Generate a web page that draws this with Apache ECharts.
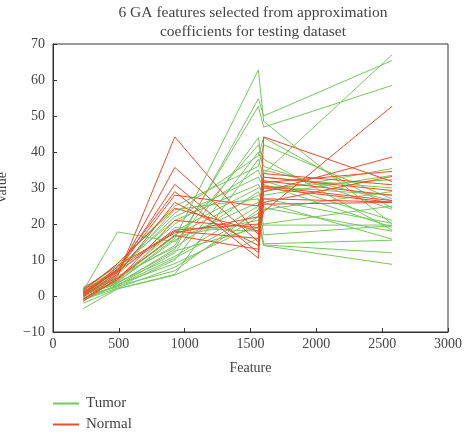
<!DOCTYPE html>
<html>
<head>
<meta charset="utf-8">
<script src="https://cdn.jsdelivr.net/npm/echarts@6/dist/echarts.min.js"></script>
<style>html,body{margin:0;padding:0;background:#fff}#c{width:467px;height:436px}</style>
</head>
<body>
<div id="c"></div>
<script>
// Feature positions on the x axis
var featureX = [230, 490, 925, 1560, 1600, 2575];
var xTicks = [0, 500, 1000, 1500, 2000, 2500, 3000];
var yTicks = [-10, 0, 10, 20, 30, 40, 50, 60, 70];

// Tumor samples (values at each feature)
var tumor = [
  [1.0, 4.0, 16.0, 62.8, 48.5, 20.0],
  [0.5, 3.5, 13.0, 54.8, 50.0, 65.4],
  [2.0, 5.0, 14.0, 52.7, 46.9, 58.5],
  [-0.5, 3.0, 12.0, 44.0, 34.0, 67.0],
  [1.5, 17.8, 15.0, 42.0, 38.0, 18.3],
  [0.0, 2.5, 10.0, 40.0, 36.0, 24.1],
  [-3.5, 2.0, 6.0, 38.0, 33.0, 30.0],
  [1.0, 6.0, 20.0, 35.0, 31.0, 19.1],
  [2.5, 7.0, 22.0, 33.0, 30.0, 32.3],
  [0.8, 5.0, 18.0, 30.0, 29.0, 35.4],
  [1.2, 4.5, 17.0, 28.0, 27.0, 20.2],
  [0.3, 3.8, 11.0, 25.0, 26.0, 15.8],
  [-1.0, 2.2, 8.0, 22.0, 14.2, 12.0],
  [0.6, 3.2, 9.0, 20.0, 14.0, 8.8],
  [1.8, 6.5, 24.0, 27.0, 17.0, 19.5],
  [0.2, 4.2, 19.0, 18.0, 24.0, 29.0],
  [-0.8, 2.8, 7.0, 24.0, 32.0, 21.0],
  [1.4, 9.0, 25.0, 36.0, 42.0, 27.0],
  [2.2, 8.0, 21.0, 31.0, 28.0, 33.5],
  [0.9, 5.5, 13.5, 29.0, 24.5, 18.0],
  [-2.0, 2.0, 5.8, 16.0, 20.0, 25.0],
  [1.1, 4.8, 16.5, 21.0, 35.0, 26.5],
  [0.4, 3.6, 12.5, 19.0, 30.5, 28.0],
  [1.6, 7.5, 23.0, 39.0, 44.0, 24.5],
  [0.7, 4.0, 15.5, 26.0, 19.7, 19.7],
  [-1.2, 3.0, 10.5, 23.0, 14.5, 15.5]
];

// Normal samples
var normal = [
  [-1.0, 5.5, 44.2, 17.0, 30.0, 26.0],
  [0.0, 6.5, 35.7, 15.0, 33.0, 29.3],
  [1.0, 7.0, 31.0, 12.0, 44.2, 31.8],
  [0.5, 8.0, 29.0, 10.5, 31.5, 34.6],
  [-0.3, 6.0, 26.0, 14.0, 29.0, 38.6],
  [1.5, 9.0, 24.4, 18.0, 23.4, 52.7],
  [0.2, 7.5, 18.3, 20.0, 27.0, 26.1],
  [-1.5, 5.0, 16.8, 13.0, 26.0, 33.2],
  [0.8, 6.8, 18.0, 16.0, 25.5, 26.0],
  [2.0, 8.5, 17.5, 22.0, 34.0, 30.9],
  [-0.8, 4.5, 21.0, 19.0, 32.0, 28.0],
  [1.2, 7.2, 28.0, 25.0, 30.5, 26.5]
];

var GREEN = '#76c65e';
var RED = '#ee4a2c';
var FONT = '"Liberation Serif", "DejaVu Serif", serif';

function mk(name, rows, color) {
  return rows.map(function (r) {
    return {
      name: name, type: 'line', symbol: 'none', silent: true,
      color: color,
      lineStyle: { color: color, width: 1 },
      data: r.map(function (v, i) { return [featureX[i], v]; })
    };
  });
}

var series = mk('Tumor', tumor, GREEN).concat(mk('Normal', normal, RED));

var chart = echarts.init(document.getElementById('c'), null, { renderer: 'canvas' });
chart.setOption({
  animation: false,
  textStyle: { fontFamily: FONT },
  title: {
    text: '6 GA features selected from approximation\ncoefficients for testing dataset',
    left: 248, top: -2, textAlign: 'center',
    textStyle: { fontFamily: FONT, fontSize: 15.5, fontWeight: 'normal', color: '#444', lineHeight: 19 }
  },
  grid: { left: 53, right: 19, top: 44, bottom: 104, outerBoundsMode: 'none', containLabel: false,
    show: true, borderColor: '#333', borderWidth: 1, backgroundColor: 'transparent' },
  legend: {
    data: ['Tumor', 'Normal'], orient: 'vertical', left: 53, top: 396, padding: 0,
    itemWidth: 26, itemHeight: 2, itemGap: 6, icon: 'rect',
    textStyle: { fontFamily: FONT, fontSize: 15, color: '#444', padding: [0, 0, 0, 2] }
  },
  xAxis: {
    type: 'value', min: xTicks[0], max: xTicks[xTicks.length - 1], interval: 500,
    name: 'Feature', nameLocation: 'middle', nameGap: 29,
    nameTextStyle: { fontFamily: FONT, fontSize: 14, color: '#444' },
    axisLine: { onZero: false, lineStyle: { color: '#333', width: 1 } },
    axisTick: { inside: true, length: 4, lineStyle: { color: '#333' } },
    axisLabel: { fontFamily: FONT, fontSize: 14, color: '#444', margin: 5,
      formatter: function (v) { return String(v); } },
    splitLine: { show: false }
  },
  yAxis: {
    type: 'value', min: yTicks[0], max: yTicks[yTicks.length - 1], interval: 10,
    name: 'Value', nameLocation: 'middle', nameGap: 44,
    nameTextStyle: { fontFamily: FONT, fontSize: 14, color: '#444' },
    axisLine: { show: true, onZero: false, lineStyle: { color: '#333', width: 1 } },
    axisTick: { show: true, inside: true, length: 4, lineStyle: { color: '#333' } },
    axisLabel: { fontFamily: FONT, fontSize: 14, color: '#444', margin: 8,
      formatter: function (v) { return String(v).replace('-', '\u2212'); } },
    splitLine: { show: false }
  },
  series: series
});
</script>
</body>
</html>
